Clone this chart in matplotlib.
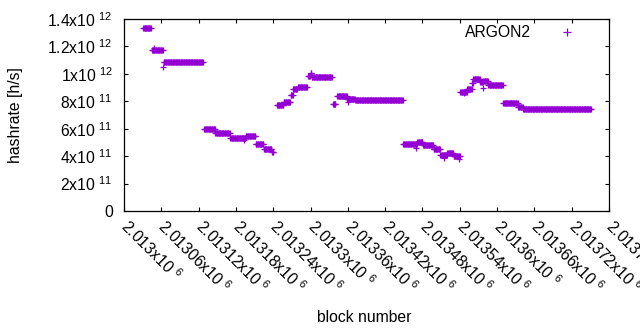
import numpy as np
import matplotlib
matplotlib.use("Agg")
import matplotlib.pyplot as plt
from matplotlib.ticker import FuncFormatter, FixedLocator

plt.rcParams['font.family'] = ['Liberation Sans', 'DejaVu Sans']
plt.rcParams['mathtext.default'] = 'regular'
FS = 11.3

# Run-length description of the hashrate series (block offset from 2013000)
seg_start = [31, 45, 64, 129, 147, 171, 196, 212, 225, 238, 246, 257, 268, 272, 280,
             296, 300, 302, 336, 343, 359, 372, 449, 472, 481, 498, 509, 520, 530,
             541, 552, 560, 562, 573, 578, 586, 610, 634, 642]
seg_end = [43, 62, 127, 146, 170, 195, 211, 224, 237, 240, 256, 267, 271, 278, 294,
           299, 301, 334, 340, 358, 371, 448, 471, 480, 497, 508, 519, 529, 540,
           551, 559, 561, 572, 577, 585, 609, 633, 641, 751]
seg_value = [1.332e12, 1.174e12, 1.085e12, 0.598e12, 0.571e12, 0.535e12, 0.547e12,
             0.489e12, 0.450e12, 0.432e12, 0.773e12, 0.797e12, 0.846e12, 0.887e12,
             0.902e12, 0.984e12, 1.008e12, 0.977e12, 0.778e12, 0.836e12, 0.820e12,
             0.806e12, 0.486e12, 0.501e12, 0.481e12, 0.450e12, 0.408e12, 0.425e12,
             0.401e12, 0.870e12, 0.890e12, 0.930e12, 0.962e12, 0.940e12, 0.948e12,
             0.917e12, 0.785e12, 0.760e12, 0.742e12]
# individual outlying points
out_block = [48, 63, 193, 360, 470, 515, 538, 546, 578]
out_value = [1.19e12, 1.05e12, 0.52e12, 0.797e12, 0.457e12, 0.384e12, 0.377e12, 0.858e12, 0.899e12]

BASE = 2013000
x_ticks = [2013000, 2013060, 2013120, 2013180, 2013240, 2013300, 2013360,
           2013420, 2013480, 2013540, 2013600, 2013660, 2013720, 2013780]
y_ticks = [0, 2e11, 4e11, 6e11, 8e11, 1e12, 1.2e12, 1.4e12]

xs, ys = [], []
for s, e, v in zip(seg_start, seg_end, seg_value):
    for b in range(s, e + 1):
        xs.append(BASE + b)
        ys.append(v)
for b, v in zip(out_block, out_value):
    xs.append(BASE + b)
    ys.append(v)


def sci(v, pos=None):
    if v == 0:
        return '0'
    e = int(np.floor(np.log10(abs(v)) + 1e-9))
    m = v / 10 ** e
    return f'{m:g}x10 $^{{{e}}}$'


fig = plt.figure(figsize=(6.4, 3.3), dpi=100)
ax = fig.add_axes([124 / 640, 1 - 211 / 330, 485 / 640, 192 / 330])
ax.plot(xs, ys, linestyle='none', marker='+', color='#9400d3', ms=4.5, mew=0.9,
        label='ARGON2')
ax.set_xlim(x_ticks[0], x_ticks[-1])
ax.set_ylim(0, 1.4e12)
ax.xaxis.set_major_locator(FixedLocator(x_ticks))
ax.yaxis.set_major_locator(FixedLocator(y_ticks))
ax.xaxis.set_major_formatter(FuncFormatter(sci))
ax.yaxis.set_major_formatter(FuncFormatter(sci))
ax.tick_params(direction='in', length=3, width=0.8, top=True, right=True,
               labelsize=FS, colors='black')
ax.tick_params(axis='y', pad=8)
ax.tick_params(axis='x', pad=9)
for lab in ax.get_xticklabels():
    lab.set_rotation(-45)
    lab.set_ha('left')
    lab.set_va('center')
    lab.set_rotation_mode('anchor')
for sp in ax.spines.values():
    sp.set_linewidth(0.9)

ax.set_xlabel('block number', fontsize=FS)
ax.xaxis.label.set_va('center')
ax.xaxis.set_label_coords((364 - 124) / 485, (211 - 318) / 192)
ax.set_ylabel('hashrate [h/s]', fontsize=FS)
ax.yaxis.label.set_va('center')
ax.yaxis.set_label_coords((15.7 - 124) / 485, 0.5)

ax.legend(loc='upper right', bbox_to_anchor=(0.967, 1.0), borderaxespad=0,
          frameon=False, markerfirst=False, fontsize=FS, handlelength=2.5,
          handletextpad=1.05, markerscale=1.3)

fig.savefig('out.png', dpi=100)
